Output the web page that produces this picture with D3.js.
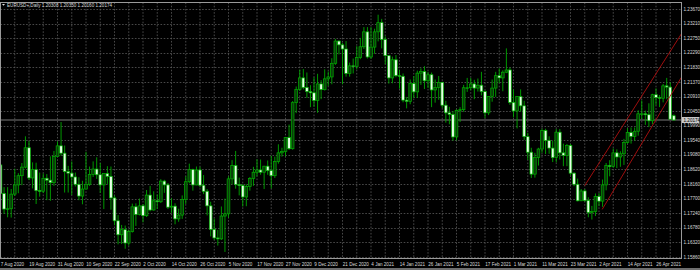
<!DOCTYPE html>
<html>
<head>
<meta charset="utf-8">
<script src="https://cdn.jsdelivr.net/npm/d3@7"></script>
<style>
	html, body { margin: 0; padding: 0; background: #000; }
	svg { display: block; }
	text { font-family: "Liberation Sans", Arial, sans-serif; }
</style>
</head>
<body>
<svg id="chart" width="700" height="270"></svg>
<script>
'use strict';

var symbolTitle = 'EURUSD+,Daily';
var lastQuote = ['1.20308', '1.20350', '1.20160', '1.20174'];
var bidPrice = 1.20174;

var priceTicks = [1.15860, 1.16320, 1.16780, 1.17240, 1.17700, 1.18160, 1.18620, 1.19080,
	1.19540, 1.19990, 1.20450, 1.20910, 1.21370, 1.21830, 1.22290, 1.22750, 1.23210, 1.23670];

var dateTicks = ['7 Aug 2020', '19 Aug 2020', '31 Aug 2020', '10 Sep 2020', '22 Sep 2020', '2 Oct 2020',
	'14 Oct 2020', '26 Oct 2020', '5 Nov 2020', '17 Nov 2020', '27 Nov 2020', '9 Dec 2020',
	'21 Dec 2020', '4 Jan 2021', '14 Jan 2021', '26 Jan 2021', '5 Feb 2021', '17 Feb 2021',
	'1 Mar 2021', '11 Mar 2021', '23 Mar 2021', '2 Apr 2021', '14 Apr 2021', '26 Apr 2021'];

// trading days shown on the chart (no weekends, no 25 Dec / 1 Jan)
var dates = d3.timeDay.range(new Date(2020, 7, 7), new Date(2021, 4, 4))
	.filter(function(d) {
		if (d.getDay() === 0 || d.getDay() === 6) return false;
		if (d.getMonth() === 11 && d.getDate() === 25) return false;
		if (d.getMonth() === 0 && d.getDate() === 1) return false;
		return true;
	})
	.map(d3.timeFormat('%-d %b %Y'));

var open = [
	1.1876,1.1786,1.1737,1.1738,1.1784,1.1813,1.1842,1.1869,1.1930,1.1835,
	1.1861,1.1795,1.1793,1.1834,1.1828,1.1820,1.1903,1.1936,1.1913,1.1855,
	1.1850,1.1838,1.1815,1.1778,1.1800,1.1815,1.1846,1.1863,1.1845,1.1813,
	1.1849,1.1840,1.1772,1.1700,1.1656,1.1672,1.1630,1.1666,1.1744,1.1720,
	1.1747,1.1716,1.1781,1.1734,1.1763,1.1760,1.1825,1.1813,1.1743,1.1746,
	1.1706,1.1718,1.1767,1.1823,1.1861,1.1813,1.1860,1.1812,1.1793,1.1747,
	1.1673,1.1646,1.1643,1.1715,1.1722,1.1832,1.1874,1.1814,1.1811,1.1775,
	1.1808,1.1833,1.1853,1.1860,1.1853,1.1872,1.1858,1.1842,1.1887,1.1914,
	1.1918,1.1962,1.1927,1.2072,1.2114,1.2150,1.2120,1.2107,1.2103,1.2079,
	1.2131,1.2113,1.2147,1.2153,1.2196,1.2266,1.2254,1.2241,1.2164,1.2188,
	1.2186,1.2214,1.2248,1.2295,1.2216,1.2247,1.2295,1.2324,1.2271,1.2220,
	1.2150,1.2207,1.2157,1.2155,1.2080,1.2076,1.2132,1.2106,1.2165,1.2170,
	1.2141,1.2160,1.2112,1.2120,1.2136,1.2064,1.2040,1.2035,1.1964,1.2048,
	1.2050,1.2119,1.2119,1.2131,1.2118,1.2127,1.2107,1.2040,1.2092,1.2118,
	1.2157,1.2150,1.2168,1.2175,1.2073,1.2046,1.2091,1.2062,1.1965,1.1916,
	1.1847,1.1899,1.1926,1.1984,1.1953,1.1929,1.1899,1.1979,1.1914,1.1906,
	1.1937,1.1850,1.1815,1.1763,1.1794,1.1764,1.1726,1.1729,1.1777,1.1762,
	1.1813,1.1874,1.1871,1.1914,1.1901,1.1911,1.1947,1.1978,1.1966,1.1982,
	1.2037,1.2037,1.2034,1.2015,1.2097,1.2088,1.2086,1.2125,1.2121,1.20308
];
var high = [
	1.1900,1.1806,1.1806,1.1800,1.1864,1.1850,1.1882,1.1966,1.1951,1.1884,
	1.1883,1.1852,1.1849,1.1847,1.1903,1.1920,1.1950,1.2011,1.1937,1.1873,
	1.1887,1.1852,1.1837,1.1826,1.1917,1.1871,1.1887,1.1900,1.1882,1.1849,
	1.1872,1.1871,1.1780,1.1718,1.1687,1.1685,1.1672,1.1754,1.1755,1.1770,
	1.1753,1.1797,1.1810,1.1793,1.1783,1.1831,1.1829,1.1819,1.1771,1.1755,
	1.1738,1.1780,1.1840,1.1880,1.1864,1.1871,1.1870,1.1844,1.1800,1.1760,
	1.1707,1.1671,1.1745,1.1770,1.1840,1.1891,1.1920,1.1836,1.1816,1.1815,
	1.1838,1.1870,1.1894,1.1893,1.1873,1.1890,1.1905,1.1902,1.1941,1.1930,
	1.1964,1.2003,1.2077,1.2123,1.2176,1.2178,1.2167,1.2127,1.2152,1.2163,
	1.2143,1.2177,1.2170,1.2212,1.2273,1.2268,1.2260,1.2266,1.2198,1.2211,
	1.2250,1.2276,1.2310,1.2310,1.2310,1.2305,1.2349,1.2336,1.2281,1.2222,
	1.2217,1.2222,1.2175,1.2164,1.2090,1.2145,1.2156,1.2173,1.2180,1.2187,
	1.2169,1.2167,1.2145,1.2156,1.2138,1.2078,1.2059,1.2045,1.2051,1.2058,
	1.2128,1.2150,1.2150,1.2144,1.2148,1.2169,1.2110,1.2093,1.2145,1.2169,
	1.2180,1.2174,1.2243,1.2183,1.2113,1.2093,1.2114,1.2078,1.1977,1.1930,
	1.1914,1.1930,1.1990,1.1990,1.1966,1.1952,1.1989,1.1989,1.1943,1.1942,
	1.1942,1.1853,1.1833,1.1800,1.1800,1.1774,1.1747,1.1786,1.1787,1.1830,
	1.1882,1.1891,1.1928,1.1925,1.1919,1.1958,1.1992,1.1994,1.1994,1.2048,
	1.2079,1.2047,1.2070,1.2100,1.2117,1.2096,1.2131,1.2150,1.2136,1.20350
];
var low = [
	1.1756,1.1722,1.1711,1.1710,1.1778,1.1787,1.1812,1.1865,1.1828,1.1802,
	1.1753,1.1776,1.1787,1.1765,1.1763,1.1810,1.1902,1.1905,1.1789,1.1789,
	1.1781,1.1808,1.1765,1.1752,1.1800,1.1810,1.1838,1.1832,1.1788,1.1737,
	1.1816,1.1735,1.1686,1.1626,1.1627,1.1612,1.1622,1.1663,1.1684,1.1717,
	1.1695,1.1712,1.1730,1.1732,1.1737,1.1756,1.1788,1.1737,1.1725,1.1689,
	1.1697,1.1706,1.1753,1.1818,1.1795,1.1812,1.1805,1.1784,1.1717,1.1651,
	1.1640,1.1622,1.1640,1.1602,1.1710,1.1815,1.1801,1.1780,1.1745,1.1746,
	1.1795,1.1810,1.1840,1.1845,1.1800,1.1845,1.1802,1.1835,1.1880,1.1902,
	1.1903,1.1923,1.1924,1.2039,1.2109,1.2114,1.2087,1.2058,1.2059,1.2040,
	1.2083,1.2110,1.2125,1.2130,1.2191,1.2224,1.2130,1.2154,1.2154,1.2164,
	1.2177,1.2209,1.2241,1.2211,1.2210,1.2226,1.2265,1.2243,1.2193,1.2132,
	1.2133,1.2152,1.2116,1.2073,1.2054,1.2067,1.2087,1.2087,1.2128,1.2115,
	1.2118,1.2058,1.2072,1.2081,1.2055,1.2009,1.2004,1.1952,1.1953,1.2011,
	1.2043,1.2106,1.2111,1.2083,1.2107,1.2095,1.2023,1.2033,1.2075,1.2090,
	1.2134,1.2108,1.2165,1.2065,1.2026,1.1991,1.2044,1.1955,1.1892,1.1835,
	1.1836,1.1874,1.1914,1.1910,1.1911,1.1885,1.1884,1.1893,1.1872,1.1872,
	1.1843,1.1809,1.1761,1.1762,1.1760,1.1711,1.1704,1.1715,1.1746,1.1744,
	1.1796,1.1840,1.1867,1.1866,1.1870,1.1876,1.1943,1.1943,1.1952,1.1968,
	1.2020,1.2002,1.1995,1.2004,1.2064,1.2058,1.2073,1.2083,1.2018,1.20160
];
var close = [
	1.1786,1.1737,1.1738,1.1784,1.1813,1.1842,1.1869,1.1930,1.1835,1.1861,
	1.1795,1.1793,1.1834,1.1828,1.1820,1.1903,1.1936,1.1913,1.1855,1.1850,
	1.1838,1.1815,1.1778,1.1800,1.1815,1.1846,1.1863,1.1845,1.1813,1.1849,
	1.1840,1.1772,1.1700,1.1656,1.1672,1.1630,1.1666,1.1744,1.1720,1.1747,
	1.1716,1.1781,1.1734,1.1763,1.1760,1.1825,1.1813,1.1743,1.1746,1.1706,
	1.1718,1.1767,1.1823,1.1861,1.1813,1.1860,1.1812,1.1793,1.1747,1.1673,
	1.1646,1.1643,1.1715,1.1722,1.1832,1.1874,1.1814,1.1811,1.1775,1.1808,
	1.1833,1.1853,1.1860,1.1853,1.1872,1.1858,1.1842,1.1887,1.1914,1.1918,
	1.1962,1.1927,1.2072,1.2114,1.2150,1.2120,1.2107,1.2103,1.2079,1.2131,
	1.2113,1.2147,1.2153,1.2196,1.2266,1.2254,1.2241,1.2164,1.2188,1.2186,
	1.2214,1.2248,1.2295,1.2216,1.2247,1.2295,1.2324,1.2271,1.2220,1.2150,
	1.2207,1.2157,1.2155,1.2080,1.2076,1.2132,1.2106,1.2165,1.2170,1.2141,
	1.2160,1.2112,1.2120,1.2136,1.2064,1.2040,1.2035,1.1964,1.2048,1.2050,
	1.2119,1.2119,1.2131,1.2118,1.2127,1.2107,1.2040,1.2092,1.2118,1.2157,
	1.2150,1.2168,1.2175,1.2073,1.2046,1.2091,1.2062,1.1965,1.1916,1.1847,
	1.1899,1.1926,1.1984,1.1953,1.1929,1.1899,1.1979,1.1914,1.1906,1.1937,
	1.1850,1.1815,1.1763,1.1794,1.1764,1.1726,1.1729,1.1777,1.1762,1.1813,
	1.1874,1.1871,1.1914,1.1901,1.1911,1.1947,1.1978,1.1966,1.1982,1.2037,
	1.2037,1.2034,1.2015,1.2097,1.2088,1.2086,1.2125,1.2121,1.2020,1.20174
];

// channel lines drawn on the chart, as [bar index, price]
var channelUpper = [[164, 1.1811], [191.2, 1.2290]];
var channelLower = [[168.9, 1.1736], [191.2, 1.2153]];

var svg = d3.select('#chart');
var plotLeft = 0.5, plotRight = 681.5, plotTop = 2.5, plotBottom = 258.5;

var x = d3.scaleLinear()
	.domain([0, dates.length - 1])
	.range([0.5, 0.5 + (dates.length - 1) * 3.5625]);

var y = d3.scaleLinear()
	.domain([1.15860, 1.23670])
	.range([257, 9]);

svg.append('rect')
	.attr('width', 700)
	.attr('height', 270)
	.attr('fill', '#000');

svg.append('clipPath')
	.attr('id', 'plotClip')
	.append('rect')
	.attr('x', plotLeft)
	.attr('y', plotTop)
	.attr('width', plotRight - plotLeft)
	.attr('height', plotBottom - plotTop);

var grid = svg.append('g')
	.attr('stroke', '#5a5a5a')
	.attr('stroke-width', 0.8)
	.attr('stroke-dasharray', '1.6,1.6');

grid.selectAll('line.h')
	.data(priceTicks)
	.enter()
	.append('line')
	.attr('class', 'h')
	.attr('x1', plotLeft)
	.attr('x2', plotRight)
	.attr('y1', function(d) { return Math.round(y(d)) + 0.5; })
	.attr('y2', function(d) { return Math.round(y(d)) + 0.5; });

grid.selectAll('line.v')
	.data(dates.filter(function(d, i) { return i % 4 === 0 && i > 0; }))
	.enter()
	.append('line')
	.attr('class', 'v')
	.attr('x1', function(d) { return x(dates.indexOf(d)); })
	.attr('x2', function(d) { return x(dates.indexOf(d)); })
	.attr('y1', plotTop)
	.attr('y2', plotBottom);

var plot = svg.append('g')
	.attr('clip-path', 'url(#plotClip)');

// bid line
plot.append('line')
	.attr('x1', plotLeft)
	.attr('x2', plotRight)
	.attr('y1', y(bidPrice))
	.attr('y2', y(bidPrice))
	.attr('stroke', '#7a7a7a')
	.attr('stroke-width', 1);

var bars = d3.range(dates.length);

plot.selectAll('line.wick')
	.data(bars)
	.enter()
	.append('line')
	.attr('class', 'wick')
	.attr('x1', function(i) { return x(i); })
	.attr('x2', function(i) { return x(i); })
	.attr('y1', function(i) { return y(high[i]); })
	.attr('y2', function(i) { return y(low[i]); })
	.attr('stroke', '#00a800')
	.attr('stroke-width', 0.9);

plot.selectAll('rect.body')
	.data(bars)
	.enter()
	.append('rect')
	.attr('class', 'body')
	.attr('x', function(i) { return x(i) - 1.35; })
	.attr('width', 2.7)
	.attr('y', function(i) { return y(Math.max(open[i], close[i])); })
	.attr('height', function(i) { return Math.max(0.6, Math.abs(y(open[i]) - y(close[i]))); })
	.attr('fill', function(i) { return close[i] < open[i] ? '#e6ffe6' : '#0a3d0a'; })
	.attr('stroke', '#00b000')
	.attr('stroke-width', 0.7);

var channelLine = d3.line()
	.x(function(d) { return x(d[0]); })
	.y(function(d) { return y(d[1]); });

plot.selectAll('path.channel')
	.data([channelUpper, channelLower])
	.enter()
	.append('path')
	.attr('class', 'channel')
	.attr('d', channelLine)
	.attr('fill', 'none')
	.attr('stroke', '#b01010')
	.attr('stroke-width', 0.9);

// frame
svg.append('rect')
	.attr('x', plotLeft)
	.attr('y', plotTop)
	.attr('width', plotRight - plotLeft)
	.attr('height', plotBottom - plotTop)
	.attr('fill', 'none')
	.attr('stroke', '#9a9a9a')
	.attr('stroke-width', 1);

// price axis
svg.append('g')
	.selectAll('text')
	.data(priceTicks)
	.enter()
	.append('text')
	.attr('x', 683.5)
	.attr('y', function(d) { return y(d) + 1.6; })
	.attr('fill', '#d8d8d8')
	.attr('font-size', '4.6px')
	.text(function(d) { return d3.format('.5f')(d); });

svg.append('rect')
	.attr('x', 682)
	.attr('y', y(bidPrice) - 3)
	.attr('width', 17.5)
	.attr('height', 6)
	.attr('fill', '#c8c8c8');

svg.append('text')
	.attr('x', 683.5)
	.attr('y', y(bidPrice) + 1.6)
	.attr('fill', '#000')
	.attr('font-size', '4.6px')
	.text(d3.format('.5f')(bidPrice));

// time axis
svg.append('g')
	.selectAll('text')
	.data(dateTicks)
	.enter()
	.append('text')
	.attr('x', function(d) { return x(dates.indexOf(d)) + 0.3; })
	.attr('y', 265.5)
	.attr('fill', '#d8d8d8')
	.attr('font-size', '4.6px')
	.text(function(d) { return d; });

svg.append('rect')
	.attr('x', 0)
	.attr('y', 268)
	.attr('width', 700)
	.attr('height', 2)
	.attr('fill', '#6e6e6e');

// header
svg.append('path')
	.attr('d', 'M2,4 L5,4 L3.5,5.8 Z')
	.attr('fill', '#e0e0e0');

svg.append('text')
	.attr('x', 7)
	.attr('y', 7)
	.attr('fill', '#d8d8d8')
	.attr('font-size', '4.6px')
	.text(symbolTitle + '  ' + lastQuote.join(' '));
</script>
</body>
</html>
